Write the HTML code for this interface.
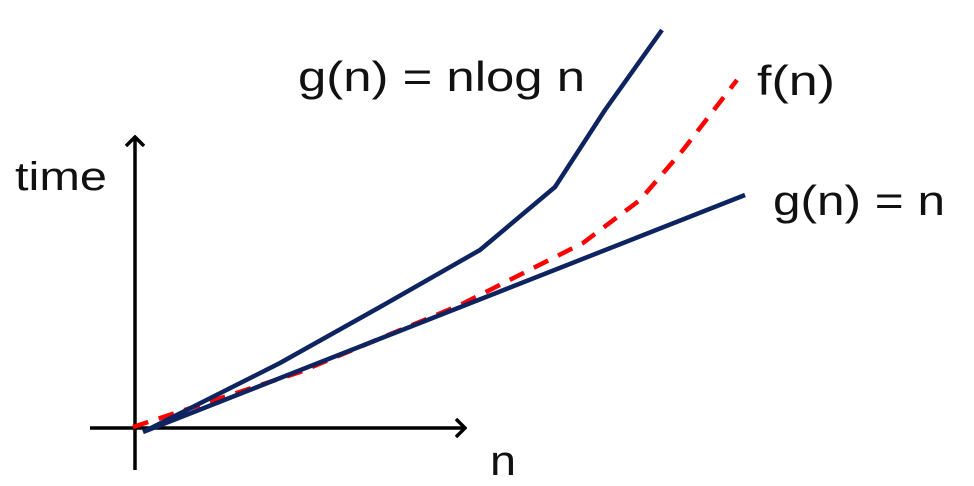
<!DOCTYPE html>
<html><head><meta charset="utf-8"><style>
html,body{margin:0;padding:0;background:#fff;}
svg{display:block;}
text{font-family:"Liberation Sans","NanumGothic",sans-serif;fill:#111;}
</style></head><body>
<svg id="chart" width="974" height="486" viewBox="0 0 974 486" xmlns="http://www.w3.org/2000/svg">
<defs>
<marker id="ah" markerWidth="12" markerHeight="20" refX="10" refY="10" orient="auto" markerUnits="userSpaceOnUse">
<path d="M1,1 L10,10 L1,19" fill="none" stroke="#000" stroke-width="3.5"/>
</marker>
</defs>
<line x1="135" y1="470" x2="135" y2="137" stroke="#000" stroke-width="3.5" marker-end="url(#ah)"/>
<line x1="90" y1="428" x2="465" y2="428" stroke="#000" stroke-width="3.5" marker-end="url(#ah)"/>
<g id="series"></g>
<text x="15" y="190" font-size="40" textLength="92" lengthAdjust="spacingAndGlyphs">time</text>
<text x="490" y="475" font-size="42" textLength="26" lengthAdjust="spacingAndGlyphs">n</text>
<text x="298" y="91" font-size="42" textLength="287" lengthAdjust="spacingAndGlyphs">g(n) = nlog n</text>
<text x="757" y="95" font-size="42" textLength="78" lengthAdjust="spacingAndGlyphs">f(n)</text>
<text x="773" y="215" font-size="42" textLength="172" lengthAdjust="spacingAndGlyphs">g(n) = n</text>
</svg>
<script>
const nlognX = [12, 145, 245, 345, 420, 470, 527];
const nlognY = [-2, 65, 121, 178, 241, 318, 398];
const linearX = [8, 610];
const linearY = [-4, 233];
const fX = [-2, 165, 325, 448, 505, 548, 602];
const fY = [1, 56, 123, 185, 228, 278, 348];

function sx(v){ return 135 + v; }
function sy(v){ return 428 - v; }
function pts(xs, ys){ return xs.map((x,i)=>sx(x)+','+sy(ys[i])).join(' '); }

const g = document.getElementById('series');
const NS = 'http://www.w3.org/2000/svg';

const pf = document.createElementNS(NS,'polyline');


pf.setAttribute('points', pts(fX,fY));
pf.setAttribute('fill','none');
pf.setAttribute('stroke','#ff0000');
pf.setAttribute('stroke-width','4.5');
pf.setAttribute('stroke-dasharray','16 11');
g.appendChild(pf);

const pl = document.createElementNS(NS,'polyline');


pl.setAttribute('points', pts(linearX,linearY));
pl.setAttribute('fill','none');
pl.setAttribute('stroke','#0d2460');
pl.setAttribute('stroke-width','4.5');
g.appendChild(pl);

const pn = document.createElementNS(NS,'polyline');


pn.setAttribute('points', pts(nlognX,nlognY));
pn.setAttribute('fill','none');
pn.setAttribute('stroke','#0d2460');
pn.setAttribute('stroke-width','4.5');
pn.setAttribute('stroke-linejoin','round');
g.appendChild(pn);
</script>
</body></html>
